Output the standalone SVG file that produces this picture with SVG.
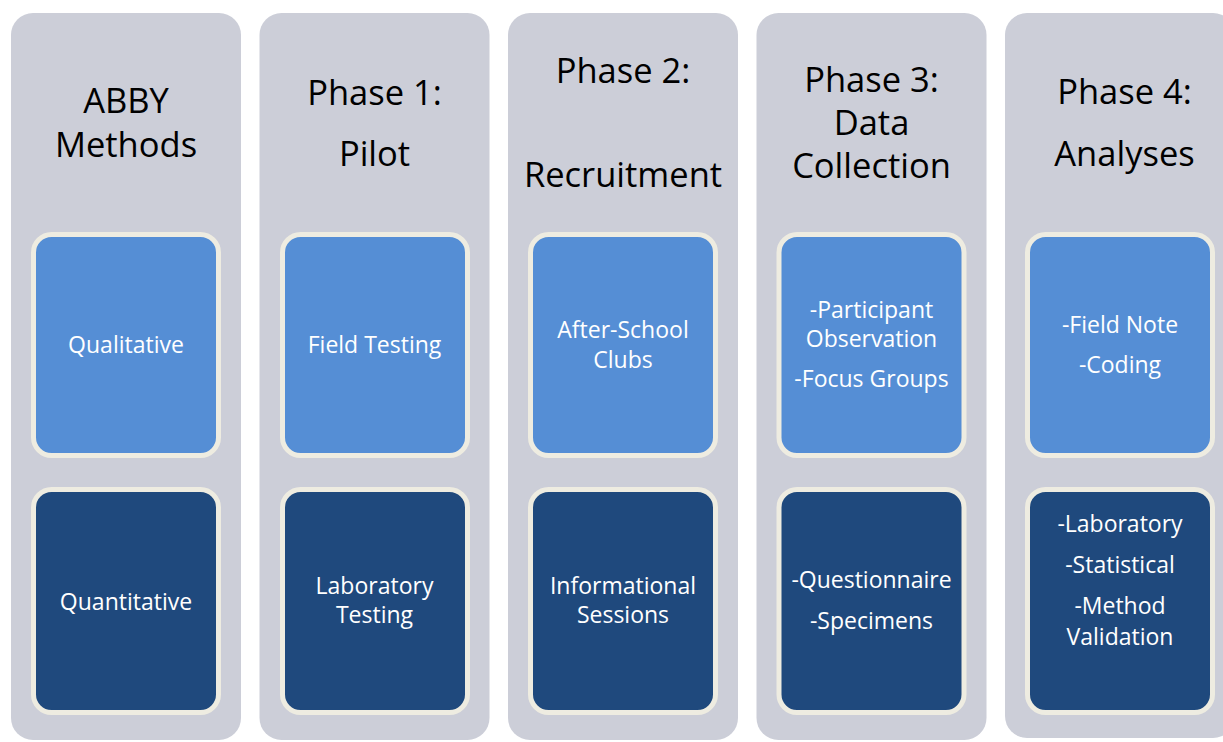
<svg xmlns="http://www.w3.org/2000/svg" width="1223" height="742" viewBox="0 0 1223 742">
<style>
.col{fill:#CCCED8}
.box{stroke:#EEECE1;stroke-width:5}
.lt{fill:#558ED5}
.dk{fill:#1F497D}
.title{font-family:"Open Sans","Liberation Sans",sans-serif;font-size:34.5px;fill:#000;text-anchor:middle}
.bt{font-family:"Open Sans","Liberation Sans",sans-serif;font-size:23px;fill:#fff;text-anchor:middle}
</style>
<rect width="1223" height="742" fill="#fff"/>
<g id="col-abby">
<rect class="col" x="11" y="13" width="230" height="727" rx="22"/>
<text class="title" x="126" y="113">ABBY</text>
<text class="title" x="126" y="157">Methods</text>
<g id="abby-qual"><rect class="box lt" x="33.5" y="234.5" width="185" height="221" rx="18"/>
<text class="bt" x="126" y="353">Qualitative</text></g>
<g id="abby-quant"><rect class="box dk" x="33.5" y="489.5" width="185" height="223" rx="18"/>
<text class="bt" x="126" y="610">Quantitative</text></g>
</g>
<g id="col-phase1">
<rect class="col" x="259.5" y="13" width="230" height="727" rx="22"/>
<text class="title" x="374.5" y="105">Phase 1:</text>
<text class="title" x="374.5" y="166">Pilot</text>
<g id="p1-field"><rect class="box lt" x="282.5" y="234.5" width="185" height="221" rx="18"/>
<text class="bt" x="374.5" y="353">Field Testing</text></g>
<g id="p1-lab"><rect class="box dk" x="282.5" y="489.5" width="185" height="223" rx="18"/>
<text class="bt" x="374.5" y="594">Laboratory</text>
<text class="bt" x="374.5" y="623">Testing</text></g>
</g>
<g id="col-phase2">
<rect class="col" x="508" y="13" width="230" height="727" rx="22"/>
<text class="title" x="623" y="83">Phase 2:</text>
<text class="title" x="623" y="187">Recruitment</text>
<g id="p2-clubs"><rect class="box lt" x="530.5" y="234.5" width="185" height="221" rx="18"/>
<text class="bt" x="623" y="338">After-School</text>
<text class="bt" x="623" y="368">Clubs</text></g>
<g id="p2-info"><rect class="box dk" x="530.5" y="489.5" width="185" height="223" rx="18"/>
<text class="bt" x="623" y="594">Informational</text>
<text class="bt" x="623" y="623">Sessions</text></g>
</g>
<g id="col-phase3">
<rect class="col" x="756.5" y="13" width="230" height="727" rx="22"/>
<text class="title" x="871.5" y="92">Phase 3:</text>
<text class="title" x="871.5" y="135">Data</text>
<text class="title" x="871.5" y="178">Collection</text>
<g id="p3-qual"><rect class="box lt" x="779" y="234.5" width="185" height="221" rx="18"/>
<text class="bt" x="871.5" y="318">-Participant</text>
<text class="bt" x="871.5" y="347">Observation</text>
<text class="bt" x="871.5" y="387">-Focus Groups</text></g>
<g id="p3-quant"><rect class="box dk" x="779" y="489.5" width="185" height="223" rx="18"/>
<text class="bt" x="871.5" y="588">-Questionnaire</text>
<text class="bt" x="871.5" y="629">-Specimens</text></g>
</g>
<g id="col-phase4">
<rect class="col" x="1005" y="13" width="230" height="725" rx="22"/>
<text class="title" x="1124.5" y="104">Phase 4:</text>
<text class="title" x="1124.5" y="166">Analyses</text>
<g id="p4-qual"><rect class="box lt" x="1027.5" y="234.5" width="185" height="221" rx="18"/>
<text class="bt" x="1120" y="333">-Field Note</text>
<text class="bt" x="1120" y="373">-Coding</text></g>
<g id="p4-quant"><rect class="box dk" x="1027.5" y="489.5" width="185" height="223" rx="18"/>
<text class="bt" x="1120" y="532">-Laboratory</text>
<text class="bt" x="1120" y="573">-Statistical</text>
<text class="bt" x="1120" y="614">-Method</text>
<text class="bt" x="1120" y="645">Validation</text></g>
</g>
<g id="connectors"></g>
</svg>
